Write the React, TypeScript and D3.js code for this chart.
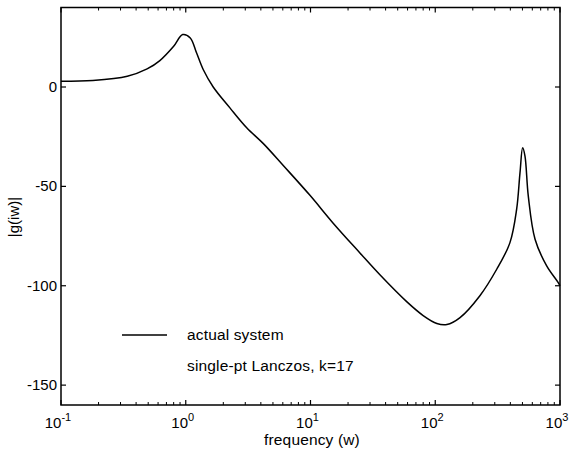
import React from "react";
import * as d3 from "d3";

const freq = [0.1, 0.18, 0.34, 0.49, 0.62, 0.8, 0.945, 1.087, 1.22, 1.38, 1.66, 2.26, 3.08, 4.19, 6.05, 9.9, 15.2, 24.9, 36, 59, 80, 103, 124, 158, 228, 311, 397, 449, 478, 502, 524, 557, 631, 782, 968, 1000];
const gain = [2.9, 3.3, 5.4, 9.1, 13.3, 20.5, 26.4, 24.7, 17.2, 8.8, 0, -10.5, -20.5, -28.5, -39.5, -54.5, -68.5, -83.5, -94.5, -108, -115, -119, -119.5, -116, -105, -91.7, -78.3, -61.6, -43.1, -30.6, -34.8, -54.9, -76.6, -90, -98.4, -100];
const yTicks = [-150, -100, -50, 0];
const xDecades = [-1, 0, 1, 2, 3];
const legendLabels = ["actual system", "single-pt Lanczos, k=17"];

export default function App() {
  const W = 573, H = 451;
  const left = 61, right = 560, top = 7.5, bottom = 405;
  const x = d3.scaleLog().domain([0.1, 1000]).range([left, right]);
  const y = d3.scaleLinear().domain([-160, 40]).range([bottom, top]);
  const pts = freq.map((f, i) => [f, gain[i]] as [number, number]);
  const line = d3.line<[number, number]>().x(d => x(d[0])).y(d => y(d[1])).curve(d3.curveCatmullRom.alpha(0.5));
  const minor: number[] = [];
  for (let e = -1; e < 3; e++) for (let m = 2; m <= 9; m++) minor.push(m * Math.pow(10, e));
  const font = "'Liberation Sans', Arial, sans-serif";
  return (
    <svg width={W} height={H} style={{ position: "absolute", left: 0, top: 0, background: "#fff" }} fontFamily={font}>
      <rect x={left} y={top} width={right - left} height={bottom - top} fill="none" stroke="#000" strokeWidth={1.5} />
      {xDecades.map(e => {
        const xv = x(Math.pow(10, e));
        return (
          <g key={"xd" + e}>
            <line x1={xv} x2={xv} y1={bottom} y2={bottom - 5} stroke="#000" strokeWidth={1.2} />
            <line x1={xv} x2={xv} y1={top} y2={top + 5} stroke="#000" strokeWidth={1.2} />
            <text x={xv - 3} y={428} fontSize={15} textAnchor="middle">10<tspan dy={-7} fontSize={11}>{e}</tspan></text>
          </g>
        );
      })}
      {minor.map((m, i) => (
        <g key={"mn" + i}>
          <line x1={x(m)} x2={x(m)} y1={bottom} y2={bottom - 3} stroke="#000" strokeWidth={1} />
          <line x1={x(m)} x2={x(m)} y1={top} y2={top + 3} stroke="#000" strokeWidth={1} />
        </g>
      ))}
      {yTicks.map(t => (
        <g key={"yt" + t}>
          <line x1={left} x2={left + 5} y1={y(t)} y2={y(t)} stroke="#000" strokeWidth={1.2} />
          <line x1={right} x2={right - 5} y1={y(t)} y2={y(t)} stroke="#000" strokeWidth={1.2} />
          <text x={left - 4} y={y(t) + 5} fontSize={15} textAnchor="end">{t}</text>
        </g>
      ))}
      <path d={line(pts) || ""} fill="none" stroke="#000" strokeWidth={1.5} />
      <line x1={122} x2={167} y1={335} y2={335} stroke="#000" strokeWidth={1.3} />
      <text x={187} y={340} fontSize={15.5} letterSpacing={0.15}>{legendLabels[0]}</text>
      <text x={187} y={371} fontSize={15.5} letterSpacing={0.15}>{legendLabels[1]}</text>
      <text x={312} y={445} fontSize={15.5} letterSpacing={0.15} textAnchor="middle">frequency (w)</text>
      <text transform="translate(19,217) rotate(-90)" fontSize={15} textAnchor="middle">|g(iw)|</text>
    </svg>
  );
}
